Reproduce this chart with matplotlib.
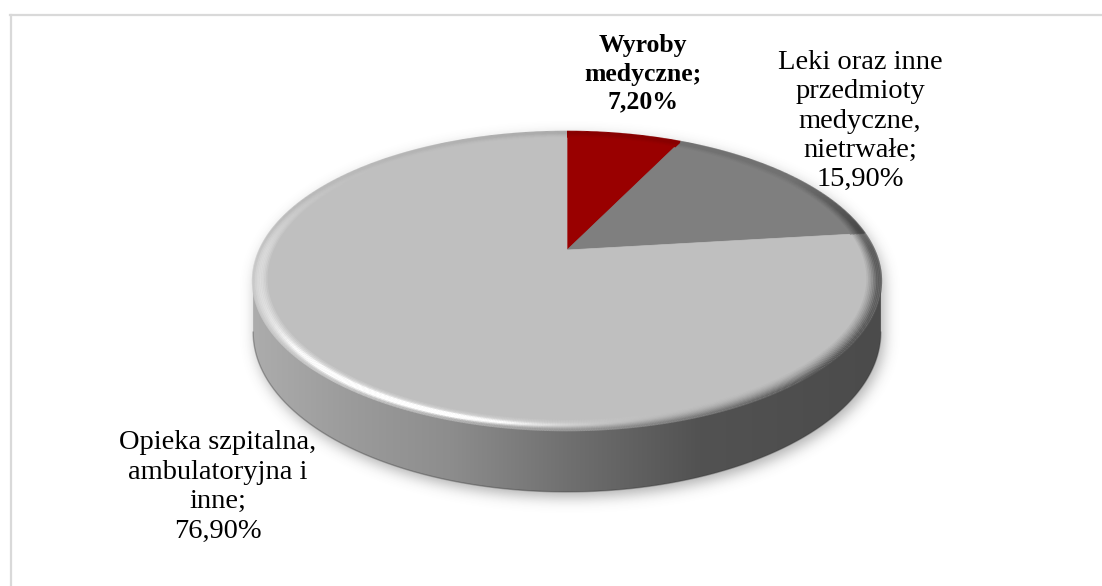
import numpy as np
import matplotlib.pyplot as plt
from matplotlib.patches import Polygon
from matplotlib.collections import LineCollection
from matplotlib.path import Path
from matplotlib.colors import to_rgb

categories = ["Wyroby\nmedyczne", "Leki oraz inne\nprzedmioty\nmedyczne,\nnietrwałe",
              "Opieka szpitalna,\nambulatoryjna i\ninne"]
shares = [7.2, 15.9, 76.9]
slice_colors = ["#990000", "#7f7f7f", "#bfbfbf"]
label_xy = [(643, 74), (860, 121), (218, 487)]
label_bold = [True, False, False]

W, H = 1102, 586
# projected disc: apex of the slices, radii, perspective and thickness in pixels
CX, CY = 567, 250
RX, RY = 307, 142.6
PERSP = 0.208
DEPTH = 49


def project(ang, r=1.0, drop=0.0):
    # ang in degrees, clockwise from the back of the disc
    a = np.radians(ang)
    cu, cv = r * np.sin(a), -r * np.cos(a)
    w = 1 - PERSP * cv
    return CX + RX * cu / w, CY + (RY * cv + drop) / w


def blur(img, sigma):
    k = np.arange(-3 * sigma, 3 * sigma + 1)
    k = np.exp(-0.5 * (k / sigma) ** 2)
    k /= k.sum()
    img = np.apply_along_axis(lambda m: np.convolve(m, k, mode="same"), 0, img)
    return np.apply_along_axis(lambda m: np.convolve(m, k, mode="same"), 1, img)


fig = plt.figure(figsize=(W / 100, H / 100), dpi=100)
ax = fig.add_axes([0, 0, 1, 1])

# chart frame
ax.plot([10, W], [15, 15], color="#d9d9d9", lw=1.6, zorder=0)
ax.plot([10.5, 10.5], [15, H], color="#d9d9d9", lw=1.6, zorder=0)

# outline of the disc: top face and the visible front of the side
top_x, top_y = project(np.linspace(0, 360, 500))
a_right = np.degrees(np.arccos(-PERSP))
front = np.linspace(a_right, 360 - a_right, 300)
bx, by = project(front, drop=DEPTH)
tx, ty = project(front[::-1])
side_xy = np.column_stack([np.r_[bx, tx], np.r_[by, ty]])
top_xy = np.column_stack([top_x, top_y])

# soft drop shadow
yy, xx = np.mgrid[0:H, 0:W]
pts = np.column_stack([xx.ravel() + 0.5, yy.ravel() + 0.5])
mask = Path(top_xy).contains_points(pts) | Path(side_xy).contains_points(pts)
mask = np.roll(mask.reshape(H, W).astype(float), (5, 3), axis=(0, 1))
sh = blur(mask, 7)
shadow = np.zeros((H, W, 4))
shadow[..., :3] = 0.3
shadow[..., 3] = sh * 0.45
ax.imshow(shadow, extent=(0, W, H, 0), zorder=1, interpolation="bilinear")

# side wall with horizontal shading
side = Polygon(side_xy, closed=True, facecolor="none", edgecolor="none", zorder=2)
ax.add_patch(side)
gx = np.linspace(240, 900, 400)
grad = np.interp(gx, [253, 350, 450, 567, 700, 882], [172, 155, 141, 112, 82, 75]) / 255
grad_img = np.repeat(grad[None, :, None], 3, axis=2)
im = ax.imshow(grad_img, extent=(240, 900, 510, 200), zorder=2, interpolation="bilinear")
im.set_clip_path(side)
ax.plot(bx, by, color="#303030", lw=1.0, alpha=0.35, zorder=2)

# top face slices
bounds = np.r_[0, np.cumsum(shares)] * 3.6
for a0, a1, col in zip(bounds[:-1], bounds[1:], slice_colors):
    arc = np.linspace(a0, a1, max(int(a1 - a0) * 2, 4))
    ax_, ay_ = project(arc)
    poly = np.column_stack([np.r_[CX, ax_], np.r_[CY, ay_]])
    ax.add_patch(Polygon(poly, closed=True, facecolor=col, edgecolor=col, lw=0.5, zorder=3))

# rounded rim of the top face, lit from the front left
light = np.array([-0.6, 0.25, 0.76])
light /= np.linalg.norm(light)
view = np.array([0.0, 0.875, 0.485])
half = light + view
half /= np.linalg.norm(half)
ang = np.linspace(0, 360, 1441)
mid = (ang[:-1] + ang[1:]) / 2
idx = np.clip(np.searchsorted(bounds, mid) - 1, 0, len(shares) - 1)
base = np.array([to_rgb(slice_colors[i]) for i in idx])
cu, cv = np.sin(np.radians(mid)), -np.cos(np.radians(mid))
# the rim reads weaker towards the back of the disc
fade = np.clip(1 + 1.4 * cv, 0.2, 1)[:, None]
for t in np.linspace(0, 1, 10):
    r = 0.955 + 0.045 * t
    th = np.radians(72 * t)
    n = np.column_stack([np.sin(th) * cu, np.sin(th) * cv, np.full_like(cu, np.cos(th))])
    diff = np.clip(n @ light, 0, None) / light[2]
    spec = np.clip(n @ half, 0, None) ** 30
    lit = base * (0.45 + 0.55 * diff)[:, None] + 0.55 * spec[:, None]
    rgb = np.clip(base + fade * (lit - base), 0, 1)
    px, py = project(ang, r)
    segs = np.stack([np.column_stack([px[:-1], py[:-1]]), np.column_stack([px[1:], py[1:]])], axis=1)
    ax.add_collection(LineCollection(segs, colors=rgb, linewidths=1.8, capstyle="butt", zorder=4))

# data labels
for name, val, (lx, ly), bold in zip(categories, shares, label_xy, label_bold):
    txt = f"{name};\n{val:.2f}%".replace(".", ",")
    ax.text(lx, ly, txt, ha="center", va="center", multialignment="center",
            family="Liberation Serif", fontsize=18.5 if bold else 20.5,
            fontweight="bold" if bold else "normal",
            linespacing=1.28 if bold else 1.23, color="black", zorder=5)

ax.set_xlim(0, W)
ax.set_ylim(H, 0)
ax.set_aspect("auto")
ax.axis("off")
fig.savefig("out.png", dpi=100)
